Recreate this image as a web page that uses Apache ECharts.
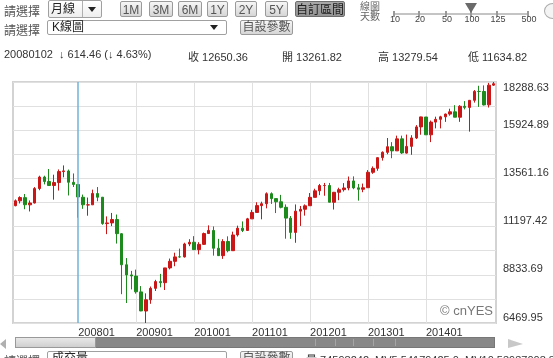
<!DOCTYPE html>
<html><head><meta charset="utf-8">
<script src="https://cdn.jsdelivr.net/npm/echarts@6/dist/echarts.min.js"></script>
<style>
html,body{margin:0;padding:0;background:#fff;width:553px;height:358px;overflow:hidden;}
#chart{position:absolute;left:0;top:0;width:553px;height:358px;}
.ui{position:absolute;font-family:"Liberation Sans",Arial,"Noto Sans CJK TC",sans-serif;color:#444;white-space:nowrap;}
.lbl{font-size:12px;color:#555;}
.btn{position:absolute;height:16px;border:1px solid #9a9a9a;border-radius:2px;background:linear-gradient(#f6f6f6,#d6d6d6);font-size:12px;color:#555;line-height:16px;text-align:center;box-sizing:border-box;font-family:"Liberation Sans",Arial,"Noto Sans CJK TC",sans-serif;}
.sel{background:linear-gradient(#a8a8a8,#939393);color:#222;border-color:#6e6e6e;}
.box{position:absolute;border:1px solid #a0a0a0;border-radius:2px;background:#fff;box-sizing:border-box;font-family:"Liberation Sans",Arial,"Noto Sans CJK TC",sans-serif;font-size:12px;color:#222;}
.tri{position:absolute;width:0;height:0;border-left:4px solid transparent;border-right:4px solid transparent;border-top:5px solid #222;}
.info{position:absolute;top:48px;font-size:11px;color:#333;font-family:"Liberation Sans",Arial,"Noto Sans CJK TC",sans-serif;white-space:nowrap;}
.tk{position:absolute;top:11px;width:2px;height:6px;background:#9a9a9a;}
.tn{position:absolute;top:14px;font-size:9px;color:#444;font-family:"Liberation Sans",Arial,sans-serif;transform:translateX(-50%);}
.cj{position:absolute;left:360px;font-size:10px;line-height:10px;color:#666;font-family:"Noto Sans CJK TC",sans-serif;white-space:nowrap;}
</style></head>
<body>
<div id="chart"></div>

<!-- row 1 -->
<div class="ui lbl" style="left:4px;top:2px;">請選擇</div>
<div class="box" style="left:48px;top:0px;width:54px;height:18px;background:linear-gradient(#fff,#eee);">
  <span style="position:absolute;left:2px;top:0px;line-height:16px;">月線</span>
  <div style="position:absolute;left:33px;top:0;width:1px;height:16px;background:#b0b0b0;"></div>
  <div class="tri" style="left:39px;top:6px;"></div>
</div>
<div class="btn" style="left:120px;top:1px;width:22px;">1M</div>
<div class="btn" style="left:149px;top:1px;width:24px;">3M</div>
<div class="btn" style="left:178px;top:1px;width:24px;">6M</div>
<div class="btn" style="left:207px;top:1px;width:21px;">1Y</div>
<div class="btn" style="left:235px;top:1px;width:22px;">2Y</div>
<div class="btn" style="left:265px;top:1px;width:23px;">5Y</div>
<div class="btn sel" style="left:295px;top:1px;width:50px;">自訂區間</div>

<div class="cj" style="top:1px;">線圖</div>
<div class="cj" style="top:11px;">天數</div>
<div style="position:absolute;left:393px;top:13px;width:136px;height:2px;background:#c4c4c4;"></div>
<div class="tk" style="left:393px;"></div>
<div class="tk" style="left:418px;"></div>
<div class="tk" style="left:445px;"></div>
<div class="tk" style="left:470px;"></div>
<div class="tk" style="left:496px;"></div>
<div class="tk" style="left:527px;"></div>
<div class="tn" style="left:395px;">10</div>
<div class="tn" style="left:420px;">20</div>
<div class="tn" style="left:447px;">50</div>
<div class="tn" style="left:472px;">100</div>
<div class="tn" style="left:498px;">125</div>
<div class="tn" style="left:529px;">500</div>
<div style="position:absolute;left:465px;top:3px;width:0;height:0;border-left:6px solid transparent;border-right:6px solid transparent;border-top:10px solid #6a6a6a;"></div>
<div style="position:absolute;left:544px;top:3px;width:16px;height:14px;border:1px solid #aaa;border-radius:50%;background:#f4f4f4;"></div>

<!-- row 2 -->
<div class="ui lbl" style="left:4px;top:21px;">請選擇</div>
<div class="box" style="left:47px;top:20px;width:180px;height:15px;">
  <span style="position:absolute;left:4px;top:0px;line-height:13px;">K線圖</span>
  <div class="tri" style="left:162px;top:4px;"></div>
</div>
<div class="btn" style="left:240px;top:20px;width:53px;height:15px;line-height:13px;">自設參數</div>

<!-- row 3 -->
<div class="info" style="left:4px;">20080102 &nbsp;↓ 614.46 (↓ 4.63%)</div>
<div class="info" style="left:188px;">收 12650.36</div>
<div class="info" style="left:282px;">開 13261.82</div>
<div class="info" style="left:378px;">高 13279.54</div>
<div class="info" style="left:468px;">低 11634.82</div>

<!-- bottom scrollbar -->
<div style="position:absolute;left:0;top:339px;width:0;height:0;border-top:5px solid transparent;border-bottom:5px solid transparent;border-right:6px solid #b0b0b0;"></div>
<div style="position:absolute;left:15px;top:337px;width:480px;height:11px;background:#888;border:1px solid #777;box-sizing:border-box;"></div>
<div style="position:absolute;left:15px;top:337px;width:81px;height:11px;background:linear-gradient(#e8e8e8,#cfcfcf);border:1px solid #999;box-sizing:border-box;"></div>
<div style="position:absolute;left:315px;top:339px;width:1px;height:7px;background:#a5a5a5;"></div>
<div style="position:absolute;left:335px;top:339px;width:1px;height:7px;background:#a5a5a5;"></div>
<div style="position:absolute;left:353px;top:339px;width:1px;height:7px;background:#a5a5a5;"></div>
<div style="position:absolute;left:373px;top:339px;width:1px;height:7px;background:#a5a5a5;"></div>
<div style="position:absolute;left:395px;top:339px;width:1px;height:7px;background:#a5a5a5;"></div>
<div style="position:absolute;left:508px;top:339px;width:0;height:0;border-top:5px solid transparent;border-bottom:4px solid transparent;border-left:15px solid #c8c8c8;"></div>

<!-- bottom row (cut off) -->
<div class="ui lbl" style="left:4px;top:352px;">請選擇</div>
<div class="box" style="left:47px;top:351px;width:180px;height:15px;"><span style="position:absolute;left:4px;top:0;line-height:13px;">成交量</span></div>
<div class="btn" style="left:240px;top:351px;width:53px;height:15px;line-height:13px;">自設參數</div>
<div class="info" style="left:306px;top:351px;">量 74598242 &nbsp;MV5 54179425.0 &nbsp;MV10 53937008.8 &nbsp;MV20</div>

<script>
// Months (tick categories)
const categories = [
 '200612',
 '200701','200702','200703','200704','200705','200706','200707','200708','200709','200710','200711','200712',
 '200801','200802','200803','200804','200805','200806','200807','200808','200809','200810','200811','200812',
 '200901','200902','200903','200904','200905','200906','200907','200908','200909','200910','200911','200912',
 '201001','201002','201003','201004','201005','201006','201007','201008','201009','201010','201011','201012',
 '201101','201102','201103','201104','201105','201106','201107','201108','201109','201110','201111','201112',
 '201201','201202','201203','201204','201205','201206','201207','201208','201209','201210','201211','201212',
 '201301','201302','201303','201304','201305','201306','201307','201308','201309','201310','201311','201312',
 '201401','201402','201403','201404','201405','201406','201407','201408','201409','201410','201411','201412',
 '201501','201502','201503'
];
const opens = [
 12221.93,
 12459.54,12617.78,12265.00,12354.35,13062.91,13627.64,13409.00,13211.99,13357.74,13895.63,13925.00,13368.00,
 13261.82,12638.17,12258.90,12264.36,12818.00,12638.00,11346.00,11378.00,11545.00,10847.00,9326.00,8828.00,
 8772.00,7996.00,7057.00,7608.00,8168.00,8500.00,8447.00,9172.00,9493.00,9713.00,9712.00,10343.00,
 10430.00,10068.00,10326.00,10857.00,11008.00,10138.00,9773.00,10468.00,10016.00,10789.00,11121.00,11007.00,
 11577.00,11892.00,12226.00,12320.00,12810.00,12570.00,12415.00,12144.00,11613.00,10912.00,11955.00,12046.00,
 12221.00,12632.00,12952.00,13212.00,13214.00,12391.00,12880.00,13009.00,13090.00,13437.00,13099.00,13028.00,
 13104.00,13860.00,14054.00,14580.00,14839.00,15115.00,14911.00,15500.00,14801.00,15132.00,15546.00,16086.00,
 16572.00,15698.00,16321.00,16457.00,16580.00,16715.00,16826.00,16561.00,17099.00,17041.00,17390.00,17827.00,
 17823.00,17169.00,18134.00
];
const closes = [
 12463.15,
 12621.69,12268.63,12354.35,13062.91,13627.64,13408.62,13211.99,13357.74,13895.63,13930.01,13371.72,13264.82,
 12650.36,12266.39,12262.89,12820.13,12638.32,11350.01,11378.02,11543.55,10850.66,9325.01,8829.04,8776.39,
 8000.86,7062.93,7608.92,8168.12,8500.33,8447.00,9171.61,9496.28,9712.28,9712.73,10344.84,10428.05,
 10067.33,10325.26,10856.63,11008.61,10136.63,9774.02,10465.94,10014.72,10788.05,11118.49,11006.02,11577.51,
 11891.93,12226.34,12319.73,12810.54,12569.79,12414.34,12143.24,11613.53,10913.38,11955.01,12045.68,12217.56,
 12632.91,12952.07,13212.04,13213.63,12393.45,12880.09,13008.68,13090.84,13437.13,13096.46,13025.58,13104.14,
 13860.58,14054.49,14578.54,14839.80,15115.57,14909.60,15499.54,14810.31,15129.67,15545.75,16086.41,16576.66,
 15698.85,16321.71,16457.66,16580.84,16717.17,16826.60,16563.30,17098.45,17042.90,17390.52,17828.24,17823.07,
 17164.95,18132.70,18203.37
];
const lows = [
 12194.13,
 12330.41,12050.41,11939.61,12333.31,12980.88,13266.73,13234.00,12517.94,12966.00,13615.00,12724.00,13138.00,
 11634.82,12069.47,11731.60,12264.36,12442.00,11287.00,10827.71,11221.00,10365.00,7882.51,7449.38,8118.00,
 7909.00,7050.00,6469.95,7411.00,8039.00,8221.00,8087.00,9100.00,9253.00,9672.00,9679.00,10239.00,
 10068.00,9835.00,10300.00,10855.00,9774.00,9757.00,9614.00,9936.00,10016.00,10711.00,10929.00,11007.00,
 11577.00,11892.00,11555.00,12093.00,12309.00,11862.00,12093.00,10604.00,10597.00,10404.00,11231.00,11735.00,
 12221.00,12630.00,12740.00,12710.00,12391.00,12035.00,12492.00,12917.00,12978.00,13030.00,12471.00,12884.00,
 13104.00,13784.00,13937.00,14434.00,14746.00,14551.00,14911.00,14760.00,14777.00,14719.00,15491.00,15703.00,
 15699.00,15341.00,16015.00,16015.00,16333.00,16637.00,16563.00,16334.00,16945.00,15855.00,17278.00,17068.00,
 17136.00,17037.00,18100.00
];
const highs = [
 12529.57,
 12683.93,12795.93,12481.01,13136.14,13692.00,13692.85,14021.95,13743.00,14000.41,14198.10,13995.00,13803.00,
 13279.54,12767.74,12622.07,13010.00,13136.69,12651.00,11698.00,11867.00,11790.00,10882.00,9654.00,9026.00,
 9088.00,8280.00,7924.00,8258.00,8587.00,8878.00,9174.00,9630.00,9917.00,10119.00,10406.00,10580.00,
 10730.00,10433.00,10905.00,11258.00,11205.00,10595.00,10580.00,10720.00,10948.00,11244.00,11451.00,11625.00,
 12020.00,12391.00,12419.00,12876.00,12876.00,12570.00,12753.00,12285.00,11716.00,12284.00,12209.00,12287.00,
 12843.00,13055.00,13289.00,13338.00,13338.00,12898.00,13103.00,13330.00,13653.00,13661.00,13290.00,13307.00,
 13969.00,14149.00,14585.00,14887.00,15542.00,15340.00,15658.00,15658.00,15710.00,15680.00,16174.00,16588.00,
 16573.00,16398.00,16588.00,16631.00,16735.00,16978.00,17152.00,17153.00,17351.00,17395.00,17894.00,18103.00,
 18121.00,18244.00,18288.63
];
// Y axis tick labels (every other gridline)
const yTickLabels = ['6469.95','8833.69','11197.42','13561.16','15924.89','18288.63'];
const cursorMonth = '200801';

const BASE = 6469.95;          // axis bottom
const TOP = 18288.63;          // axis top
const RANGE = +(TOP - BASE).toFixed(2);
const STEP = RANGE / 10;

const candleData = categories.map((c, i) => [opens[i] - BASE, closes[i] - BASE, lows[i] - BASE, highs[i] - BASE]);

const chart = echarts.init(document.getElementById('chart'), null, {renderer: 'canvas'});
chart.setOption({
  animation: false,
  grid: {left: 13, right: 57, top: 82, bottom: 35, show: true, borderColor: '#d3d3d3', borderWidth: 2, backgroundColor: 'transparent'},
  xAxis: {
    type: 'category', data: categories, boundaryGap: true,
    axisLine: {show: false}, axisTick: {show: false},
    axisLabel: {
      interval: (i, v) => v.endsWith('01') && v >= '200801' && v <= '201401',
      align: 'left', margin: 4, color: '#333', fontSize: 11,
      fontFamily: 'Liberation Sans, Arial, sans-serif'
    },
    splitLine: {
      show: true, alignWithLabel: true,
      interval: (i, v) => v.endsWith('01') && v >= '200901' && v <= '201401',
      lineStyle: {color: '#e0e0e0', width: 1}
    }
  },
  yAxis: {
    type: 'value', position: 'right', min: 0, max: RANGE, interval: STEP, scale: false,
    axisLine: {show: false}, axisTick: {show: false},
    splitLine: {lineStyle: {color: '#e0e0e0', width: 1}},
    axisLabel: {
      showMaxLabel: true, showMinLabel: true,
      margin: 7, color: '#333', fontSize: 11, fontFamily: 'Liberation Sans, Arial, sans-serif',
      verticalAlign: 'middle',
      formatter: (v) => {
        const k = Math.round(v / STEP);
        if (k % 2 !== 0) return '';
        const t = yTickLabels[k / 2];
        return k === 10 ? '{t|' + t + '}' : '{a|' + t + '}';
      },
      rich: {
        a: {padding: [0, 0, 11, 0], color: '#333', fontSize: 11, fontFamily: 'Liberation Sans, Arial, sans-serif'},
        t: {padding: [12, 0, 0, 0], color: '#333', fontSize: 11, fontFamily: 'Liberation Sans, Arial, sans-serif'}
      }
    }
  },
  graphic: [{
    type: 'text', right: 60, top: 305, silent: true,
    style: {text: '© cnYES', fill: '#777', font: '13px "Liberation Sans", Arial, sans-serif'}
  }],
  series: [{
    type: 'candlestick', data: candleData, barWidth: 3,
    itemStyle: {color: '#c91717', color0: '#1d8a1d', borderColor: '#c91717', borderColor0: '#1d8a1d', borderWidth: 1},
    markLine: {
      silent: true, symbol: ['none', 'none'], label: {show: false},
      lineStyle: {color: '#6fb3d9', width: 1.5, type: 'solid'},
      data: [{xAxis: cursorMonth}]
    }
  }]
});
</script>
</body></html>
